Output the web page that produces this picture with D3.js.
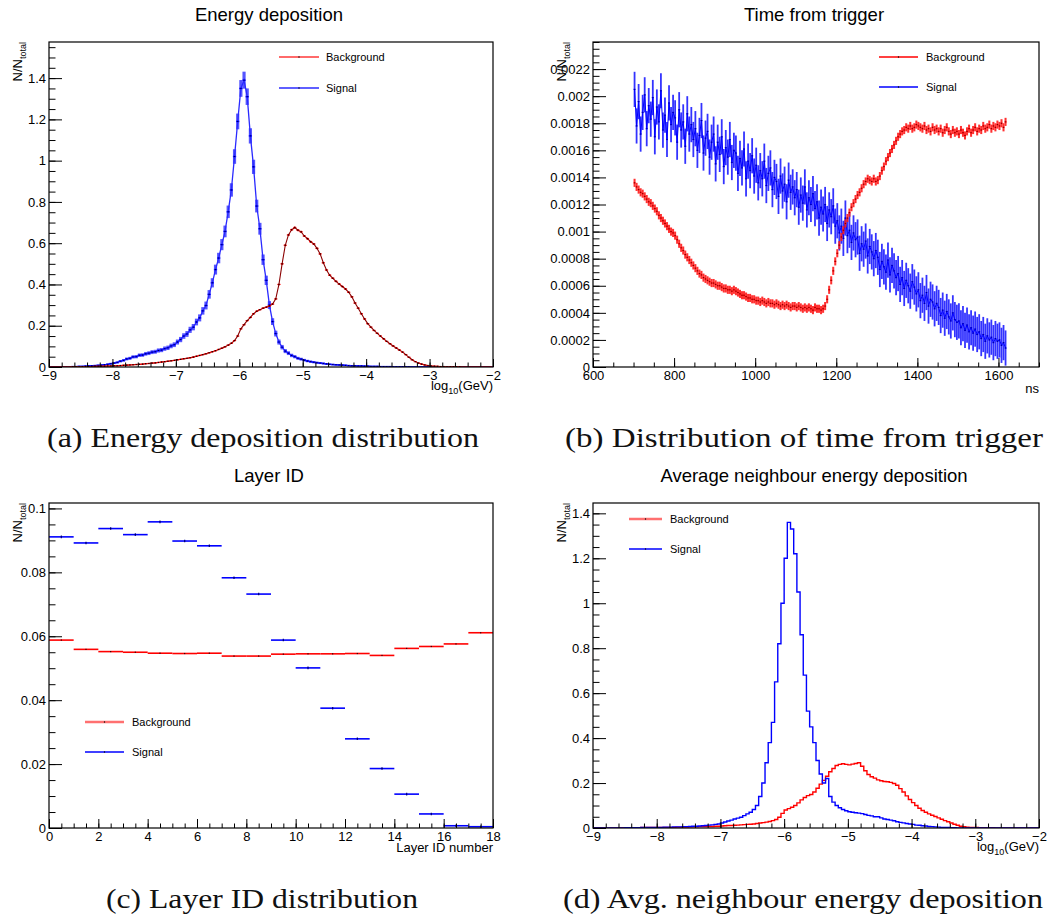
<!DOCTYPE html>
<html>
<head>
<meta charset="utf-8">
<script src="https://cdn.jsdelivr.net/npm/d3@7"></script>
<style>
    body { margin: 0; background: #fff; }
    svg { display: block; }
</style>
</head>
<body>
<div id="chart"></div>
<script>

/* (a) energy deposition, bins of 0.05 in log10(GeV) starting at -9 */
const ENERGY_BIN_START = -9;
const ENERGY_BIN_WIDTH = 0.05;
const energySignal = [
    0, 0, 0, 0, 0.001, 0.001, 0.001, 0.002, 0.002, 0.003, 0.003, 0.004, 0.005, 0.006, 0.007, 0.008, 0.009, 0.011, 0.013, 0.016,
    0.019, 0.022, 0.028, 0.032, 0.039, 0.042, 0.049, 0.050, 0.057, 0.058, 0.064, 0.067, 0.072, 0.074, 0.080, 0.082, 0.089, 0.093, 0.102, 0.108,
    0.121, 0.133, 0.150, 0.160, 0.180, 0.193, 0.218, 0.238, 0.272, 0.298, 0.352, 0.408, 0.472, 0.528, 0.593, 0.657, 0.752, 0.858, 1.020, 1.190,
    1.350, 1.390, 1.310, 1.120, 0.970, 0.780, 0.670, 0.520, 0.420, 0.300, 0.220, 0.162, 0.121, 0.096, 0.077, 0.067, 0.056, 0.050, 0.042, 0.038,
    0.033, 0.029, 0.026, 0.023, 0.021, 0.019, 0.017, 0.015, 0.013, 0.012, 0.011, 0.010, 0.009, 0.008, 0.007, 0.006, 0.006, 0.005, 0.005, 0.004,
    0.004, 0.003, 0.003, 0.003, 0.002, 0.002, 0.002, 0.002, 0.001, 0.001, 0.001, 0.001, 0.001, 0.001, 0, 0, 0, 0, 0, 0,
    0, 0, 0, 0, 0, 0, 0, 0, 0, 0, 0, 0, 0, 0, 0, 0, 0, 0, 0, 0
];
const energyBackground = [
    0, 0, 0, 0, 0, 0, 0, 0.001, 0.001, 0.001, 0.001, 0.002, 0.002, 0.002, 0.003, 0.003, 0.004, 0.004, 0.005, 0.005,
    0.006, 0.006, 0.007, 0.008, 0.009, 0.010, 0.011, 0.012, 0.013, 0.014, 0.016, 0.017, 0.019, 0.020, 0.022, 0.024, 0.026, 0.028, 0.030, 0.032,
    0.035, 0.037, 0.040, 0.042, 0.045, 0.048, 0.052, 0.056, 0.060, 0.064, 0.069, 0.074, 0.079, 0.085, 0.091, 0.098, 0.106, 0.115, 0.128, 0.150,
    0.185, 0.205, 0.225, 0.240, 0.258, 0.270, 0.278, 0.285, 0.290, 0.296, 0.305, 0.330, 0.400, 0.500, 0.590, 0.640, 0.665, 0.676, 0.663, 0.655,
    0.635, 0.622, 0.607, 0.596, 0.575, 0.548, 0.505, 0.470, 0.445, 0.430, 0.415, 0.402, 0.390, 0.378, 0.362, 0.340, 0.310, 0.285, 0.258, 0.233,
    0.210, 0.193, 0.177, 0.163, 0.150, 0.137, 0.124, 0.113, 0.102, 0.092, 0.082, 0.072, 0.060, 0.047, 0.035, 0.026, 0.019, 0.014, 0.010, 0.007,
    0.005, 0.004, 0.003, 0.002, 0.002, 0.001, 0.001, 0.001, 0.001, 0.001, 0, 0, 0, 0, 0, 0, 0, 0, 0, 0
];
const ENERGY_ERROR_SCALE = { signal: 0.035, background: 0.006 };

/* (b) time from trigger, 5 ns bins from 700 ns, values in units of 1e-5 */
const TIME_BIN_START = 700;
const TIME_BIN_WIDTH = 5;
const TIME_UNIT = 1e-5;
const timeSignal = [
    205, 178, 196, 172, 188, 201, 176, 193, 183, 199,
    170, 192, 181, 204, 175, 186, 168, 195, 179, 188,
    184, 166, 190, 175, 181, 163, 187, 172, 179, 168,
    176, 160, 171, 182, 158, 169, 174, 155, 166, 172,
    150, 166, 157, 170, 148, 162, 155, 168, 151, 160,
    158, 143, 154, 147, 161, 139, 152, 145, 156, 141,
    149, 136, 145, 139, 152, 134, 143, 147, 131, 140,
    137, 126, 141, 130, 135, 122, 138, 129, 133, 125,
    131, 118, 127, 121, 133, 116, 125, 120, 128, 117,
    122, 110, 118, 113, 120, 106, 116, 111, 119, 104,
    108, 99, 104, 95, 110, 97, 101, 92, 99, 94,
    96, 84, 91, 87, 93, 82, 89, 85, 80, 86,
    81, 72, 78, 74, 70, 79, 68, 75, 71, 66,
    69, 61, 66, 58, 64, 60, 56, 63, 59, 54,
    57, 49, 53, 47, 55, 45, 50, 48, 43, 47,
    44, 38, 42, 36, 41, 37, 34, 40, 35, 33,
    34, 29, 32, 27, 31, 26, 29, 25, 28, 24,
    26, 21, 24, 19, 23, 20, 22, 18, 21, 19,
    20, 16, 18, 14
];
const timeBackground = [
    136, 133, 131, 129, 128, 126, 124, 122, 121, 119,
    117, 115, 112, 110, 108, 106, 104, 102, 100, 99,
    97, 94, 91, 88, 86, 83, 81, 79, 77, 75,
    73, 71, 69, 68, 66, 65, 64, 63, 62, 62,
    61, 60, 60, 59, 58, 58, 57, 57, 56, 57,
    56, 55, 54, 53, 53, 52, 51, 51, 50, 50,
    49, 49, 48, 49, 48, 47, 48, 47, 47, 46,
    47, 46, 45, 46, 45, 46, 45, 44, 45, 45,
    44, 45, 44, 43, 44, 43, 44, 43, 42, 44,
    43, 43, 42, 43, 45, 50, 57, 64, 71, 78,
    84, 90, 96, 101, 106, 110, 114, 118, 121, 124,
    127, 129, 132, 135, 137, 139, 138, 137, 139, 137,
    138, 141, 145, 148, 152, 155, 158, 161, 164, 167,
    170, 172, 174, 175, 177, 176, 178, 176, 177, 179,
    178, 177, 176, 178, 175, 176, 174, 177, 175, 176,
    174, 176, 173, 175, 177, 174, 172, 175, 173, 174,
    172, 175, 173, 171, 174, 176, 173, 175, 177, 174,
    176, 175, 178, 176, 177, 179, 176, 178, 177, 179,
    178, 180, 177, 181
];
const TIME_ERROR = { signal: 13, background: 3 };

/* (c) layer ID, one bin per layer */
const LAYER_BIN_START = 0;
const LAYER_BIN_WIDTH = 1;
const layerSignal = [
    0.0911, 0.0892, 0.0937, 0.0918, 0.0958, 0.0898, 0.0883, 0.0783, 0.0732,
    0.0588, 0.0501, 0.0375, 0.0279, 0.0186, 0.0106, 0.0044, 0.0007, 0.0004
];
const layerBackground = [
    0.0588, 0.0559, 0.0552, 0.0550, 0.0547, 0.0546, 0.0547, 0.0538, 0.0538,
    0.0544, 0.0545, 0.0545, 0.0546, 0.0540, 0.0562, 0.0568, 0.0576, 0.0611
];
const LAYER_ERROR = { signal: 0.0004, background: 0.0001 };

/* (d) average neighbour energy deposition, bins of 0.05 from -9 */
const NEIGHBOUR_BIN_START = -9;
const NEIGHBOUR_BIN_WIDTH = 0.05;
const neighbourSignal = [
    0, 0, 0, 0, 0, 0, 0, 0, 0, 0, 0.001, 0.001, 0.001, 0.001, 0.001, 0.002, 0.002, 0.002, 0.002, 0.003,
    0.003, 0.003, 0.004, 0.004, 0.004, 0.005, 0.005, 0.005, 0.006, 0.006, 0.007, 0.008, 0.008, 0.009, 0.010, 0.011, 0.013, 0.014, 0.016, 0.018,
    0.022, 0.027, 0.031, 0.035, 0.040, 0.044, 0.048, 0.055, 0.063, 0.070, 0.082, 0.100, 0.140, 0.200, 0.290, 0.380, 0.470, 0.650, 0.820, 1.000,
    1.200, 1.360, 1.330, 1.220, 1.050, 0.860, 0.680, 0.520, 0.450, 0.380, 0.300, 0.240, 0.200, 0.220, 0.140, 0.115, 0.100, 0.090, 0.082, 0.077,
    0.072, 0.070, 0.068, 0.066, 0.064, 0.060, 0.056, 0.054, 0.050, 0.050, 0.045, 0.040, 0.038, 0.035, 0.032, 0.028, 0.025, 0.023, 0.020, 0.018,
    0.016, 0.013, 0.012, 0.010, 0.009, 0.007, 0.006, 0.005, 0.004, 0.003, 0.003, 0.002, 0.001, 0.001, 0, 0, 0, 0, 0, 0,
    0, 0, 0, 0, 0, 0, 0, 0, 0, 0, 0, 0, 0, 0, 0, 0, 0, 0, 0, 0
];
const neighbourBackground = [
    0, 0, 0, 0, 0, 0, 0, 0, 0.001, 0.001, 0.001, 0.001, 0.001, 0.001, 0.001, 0.002, 0.002, 0.002, 0.002, 0.002,
    0.002, 0.002, 0.003, 0.003, 0.003, 0.003, 0.004, 0.004, 0.004, 0.004, 0.005, 0.005, 0.005, 0.006, 0.006, 0.006, 0.007, 0.007, 0.008, 0.008,
    0.009, 0.010, 0.011, 0.011, 0.012, 0.013, 0.014, 0.015, 0.016, 0.017, 0.018, 0.020, 0.022, 0.024, 0.026, 0.029, 0.033, 0.038, 0.048, 0.065,
    0.080, 0.086, 0.092, 0.100, 0.112, 0.125, 0.136, 0.144, 0.149, 0.160, 0.177, 0.195, 0.212, 0.230, 0.250, 0.265, 0.278, 0.283, 0.286, 0.283,
    0.281, 0.284, 0.287, 0.290, 0.275, 0.255, 0.238, 0.228, 0.222, 0.214, 0.210, 0.207, 0.206, 0.203, 0.198, 0.190, 0.175, 0.160, 0.143, 0.127,
    0.113, 0.100, 0.088, 0.078, 0.070, 0.063, 0.057, 0.051, 0.045, 0.039, 0.033, 0.028, 0.022, 0.017, 0.012, 0.008, 0.006, 0.004, 0.003, 0.002,
    0.002, 0.001, 0.001, 0.001, 0.001, 0.001, 0, 0, 0, 0, 0, 0, 0, 0, 0, 0, 0, 0, 0, 0
];

/* axis ticks and texts */
const LOG_X_TICKS = [-9, -8, -7, -6, -5, -4, -3, -2];
const ENERGY_Y_TICKS = [0, 0.2, 0.4, 0.6, 0.8, 1, 1.2, 1.4];
const TIME_X_TICKS = [600, 800, 1000, 1200, 1400, 1600];
const TIME_Y_TICKS = [0, 0.0002, 0.0004, 0.0006, 0.0008, 0.001, 0.0012, 0.0014, 0.0016, 0.0018, 0.002, 0.0022];
const LAYER_X_TICKS = [0, 2, 4, 6, 8, 10, 12, 14, 16, 18];
const LAYER_Y_TICKS = [0, 0.02, 0.04, 0.06, 0.08, 0.1];

const TITLES = ['Energy deposition', 'Time from trigger', 'Layer ID', 'Average neighbour energy deposition'];
const CAPTIONS = [
    '(a) Energy deposition distribution',
    '(b) Distribution of time from trigger',
    '(c) Layer ID distribution',
    '(d) Avg. neighbour energy deposition'
];
const LEGEND_LABELS = ['Background', 'Signal'];

const WIDTH = 1053;
const HEIGHT = 923;
const FONT = "'Liberation Sans', Arial, Helvetica, sans-serif";
const SERIF = "'Liberation Serif', 'Times New Roman', serif";
const BLUE = '#0000ff';
const RED = '#ff0000';

const svg = d3.select('#chart').append('svg')
    .attr('width', WIDTH)
    .attr('height', HEIGHT);

svg.append('rect')
    .attr('width', WIDTH)
    .attr('height', HEIGHT)
    .attr('fill', '#fff');

const toBins = (values, start, width, scale = 1) => values.map((v, i) => ({
    lo: start + i * width,
    hi: start + (i + 1) * width,
    v: v * scale
}));

const minorTicks = (domain, step) => d3.range(
    Math.ceil(domain[0] / step - 1e-9),
    Math.floor(domain[1] / step + 1e-9) + 1
).map(k => +(k * step).toFixed(8));

const tickText = d => (d < 0 ? '\u2212' + Math.abs(d) : String(d));

const styleAxis = g => {
    g.select('.domain').remove();
    g.attr('font-family', FONT).attr('font-size', 13);
    g.selectAll('line').attr('stroke', '#000').attr('stroke-width', 1);
    g.selectAll('text').attr('fill', '#000');
};

const drawPanel = panel => {

    const g = svg.append('g');
    const x = d3.scaleLinear().domain(panel.xDomain).range([panel.left, panel.right]);
    const y = d3.scaleLinear().domain(panel.yDomain).range([panel.bottom, panel.top]);

    g.append('clipPath')
        .attr('id', `clip-${panel.id}`)
        .append('rect')
        .attr('x', panel.left)
        .attr('y', panel.top)
        .attr('width', panel.right - panel.left)
        .attr('height', panel.bottom - panel.top);

    const plot = g.append('g').attr('clip-path', `url(#clip-${panel.id})`);

    // ROOT style: ticks inside the frame, left and bottom only
    g.append('g')
        .attr('transform', `translate(0, ${panel.bottom})`)
        .call(d3.axisBottom(x).tickValues(minorTicks(panel.xDomain, panel.xMinor)).tickSize(-4.5).tickFormat(''))
        .call(styleAxis);
    g.append('g')
        .attr('transform', `translate(0, ${panel.bottom})`)
        .call(d3.axisBottom(x).tickValues(panel.xTicks).tickSize(-panel.xMajorLen).tickPadding(3.5).tickFormat(tickText))
        .call(styleAxis);
    g.append('g')
        .attr('transform', `translate(${panel.left}, 0)`)
        .call(d3.axisLeft(y).tickValues(minorTicks(panel.yDomain, panel.yMinor)).tickSize(-6.5).tickFormat(''))
        .call(styleAxis);
    g.append('g')
        .attr('transform', `translate(${panel.left}, 0)`)
        .call(d3.axisLeft(y).tickValues(panel.yTicks).tickSize(-13).tickPadding(3).tickFormat(tickText))
        .call(styleAxis);

    g.append('rect')
        .attr('x', panel.left)
        .attr('y', panel.top)
        .attr('width', panel.right - panel.left)
        .attr('height', panel.bottom - panel.top)
        .attr('fill', 'none')
        .attr('stroke', '#000')
        .attr('stroke-width', 1.2);

    g.append('text')
        .attr('x', (panel.left + panel.right) / 2 - 2)
        .attr('y', panel.top - 21)
        .attr('text-anchor', 'middle')
        .attr('font-family', FONT)
        .attr('font-size', 18.5)
        .text(panel.title);

    // x axis title, right aligned to the frame
    const xTitle = g.append('text')
        .attr('x', panel.right)
        .attr('y', panel.xTitleY)
        .attr('text-anchor', 'end')
        .attr('font-family', FONT)
        .attr('font-size', 13);
    if (panel.logTitle) {
        xTitle.append('tspan').text('log');
        xTitle.append('tspan').attr('dy', 4).attr('font-size', 9).text('10');
        xTitle.append('tspan').attr('dy', -4).text('(GeV)');
    } else {
        xTitle.text(panel.xTitle);
    }

    const yTitle = g.append('text')
        .attr('transform', `translate(${panel.left - 27}, ${panel.top}) rotate(-90)`)
        .attr('text-anchor', 'end')
        .attr('font-family', FONT)
        .attr('font-size', 13);
    yTitle.append('tspan').text('N/N');
    yTitle.append('tspan').attr('dy', 4).attr('font-size', 9).text('total');

    svg.append('text')
        .attr('x', panel.captionX)
        .attr('y', panel.captionY)
        .attr('font-family', SERIF)
        .attr('font-size', 28)
        .attr('textLength', panel.captionWidth)
        .attr('lengthAdjust', 'spacingAndGlyphs')
        .attr('fill', '#111')
        .text(panel.caption);

    return { g, plot, x, y };
};

// histogram drawn with bin width lines, error bars and small black markers
const drawErrorHist = (plot, x, y, bins, style) => {
    const layer = plot.append('g');
    const mid = b => x((b.lo + b.hi) / 2);

    if (style.box) {
        // error bars as wide as the bin, so that dense bins read as a band
        layer.selectAll('rect.err')
            .data(bins.filter(b => b.e > 0))
            .join('rect')
            .attr('class', 'err')
            .attr('x', b => x(b.lo))
            .attr('width', b => x(b.hi) - x(b.lo))
            .attr('y', b => y(b.v + b.e))
            .attr('height', b => y(b.v - b.e) - y(b.v + b.e))
            .attr('fill', style.errorColor)
            .attr('fill-opacity', style.errorOpacity || 1);
    } else {
        layer.selectAll('line.err')
            .data(bins.filter(b => b.e > 0))
            .join('line')
            .attr('class', 'err')
            .attr('x1', mid)
            .attr('x2', mid)
            .attr('y1', b => y(b.v - b.e))
            .attr('y2', b => y(b.v + b.e))
            .attr('stroke', style.errorColor)
            .attr('stroke-width', style.errorWidth)
            .attr('stroke-opacity', style.errorOpacity || 1);
    }

    if (style.join) {
        layer.append('path')
            .attr('d', d3.line().x(mid).y(b => y(b.v))(bins))
            .attr('fill', 'none')
            .attr('stroke', style.join)
            .attr('stroke-width', style.joinWidth || 1.1);
    }

    layer.selectAll('line.bin')
        .data(bins)
        .join('line')
        .attr('class', 'bin')
        .attr('x1', b => x(b.lo))
        .attr('x2', b => x(b.hi))
        .attr('y1', b => y(b.v))
        .attr('y2', b => y(b.v))
        .attr('stroke', style.color)
        .attr('stroke-width', style.width);

    layer.selectAll('rect.marker')
        .data(bins.filter(b => b.v > 0))
        .join('rect')
        .attr('class', 'marker')
        .attr('x', b => mid(b) - style.marker / 2)
        .attr('y', b => y(b.v) - style.marker / 2)
        .attr('width', style.marker)
        .attr('height', style.marker)
        .attr('fill', '#000')
        .attr('fill-opacity', style.markerOpacity || 0.8);
};

const drawStepHist = (plot, x, y, bins, color) => {
    const last = bins[bins.length - 1];
    const points = bins.map(b => [b.lo, b.v]).concat([[last.hi, last.v]]);
    plot.append('path')
        .attr('d', d3.line().x(d => x(d[0])).y(d => y(d[1])).curve(d3.curveStepAfter)(points))
        .attr('fill', 'none')
        .attr('stroke', color)
        .attr('stroke-width', 1.4);
};

const drawLegend = (g, legend) => {
    legend.colors.forEach((color, i) => {
        const yPos = legend.y[i];
        g.append('line')
            .attr('x1', legend.x1)
            .attr('x2', legend.x2)
            .attr('y1', yPos)
            .attr('y2', yPos)
            .attr('stroke', color)
            .attr('stroke-width', legend.widths[i]);
        g.append('rect')
            .attr('x', (legend.x1 + legend.x2) / 2 - 0.6)
            .attr('y', yPos - 0.6)
            .attr('width', 1.2)
            .attr('height', 1.2)
            .attr('fill', '#000');
        g.append('text')
            .attr('x', legend.textX)
            .attr('y', yPos)
            .attr('dy', '0.35em')
            .attr('font-family', FONT)
            .attr('font-size', 11)
            .text(LEGEND_LABELS[i]);
    });
};

const PANELS = [
    {
        id: 'energy', left: 49, right: 493, top: 42, bottom: 367,
        xDomain: [-9, -2], yDomain: [0, 1.575], xTicks: LOG_X_TICKS, yTicks: ENERGY_Y_TICKS,
        xMinor: 0.2, yMinor: 0.05, xMajorLen: 8, logTitle: true, xTitleY: 390,
        title: TITLES[0], caption: CAPTIONS[0], captionX: 47, captionY: 447, captionWidth: 432,
        legend: { x1: 279, x2: 319, textX: 326, y: [57, 88], colors: ['#ff6a6a', '#2a2aff'], widths: [2, 1.6] }
    },
    {
        id: 'time', left: 593, right: 1039, top: 42, bottom: 367,
        xDomain: [600, 1700], yDomain: [0, 0.0024], xTicks: TIME_X_TICKS, yTicks: TIME_Y_TICKS,
        xMinor: 50, yMinor: 0.00005, xMajorLen: 9, logTitle: false, xTitle: 'ns', xTitleY: 393,
        title: TITLES[1], caption: CAPTIONS[1], captionX: 565, captionY: 447, captionWidth: 478,
        legend: { x1: 879, x2: 918, textX: 926, y: [57, 87], colors: [RED, BLUE], widths: [1.5, 1.5] }
    },
    {
        id: 'layer', left: 49, right: 493, top: 503, bottom: 828,
        xDomain: [0, 18], yDomain: [0, 0.1017], xTicks: LAYER_X_TICKS, yTicks: LAYER_Y_TICKS,
        xMinor: 0.5, yMinor: 0.005, xMajorLen: 9, logTitle: false, xTitle: 'Layer ID number', xTitleY: 852,
        title: TITLES[2], caption: CAPTIONS[2], captionX: 106, captionY: 908, captionWidth: 312,
        legend: { x1: 85, x2: 124, textX: 132, y: [722, 752], colors: ['#ff7070', BLUE], widths: [2.5, 1.5] }
    },
    {
        id: 'neighbour', left: 593, right: 1039, top: 503, bottom: 828,
        xDomain: [-9, -2], yDomain: [0, 1.446], xTicks: LOG_X_TICKS, yTicks: ENERGY_Y_TICKS,
        xMinor: 0.2, yMinor: 0.05, xMajorLen: 9, logTitle: true, xTitleY: 851,
        title: TITLES[3], caption: CAPTIONS[3], captionX: 563, captionY: 908, captionWidth: 480,
        legend: { x1: 629, x2: 662, textX: 670, y: [519, 549], colors: ['#ff7070', BLUE], widths: [2.5, 1.5] }
    }
];

const views = PANELS.map(drawPanel);

/* (a) */
{
    const { g, plot, x, y } = views[0];
    const sig = toBins(energySignal, ENERGY_BIN_START, ENERGY_BIN_WIDTH)
        .map(b => ({ ...b, e: ENERGY_ERROR_SCALE.signal * Math.sqrt(b.v) }));
    const bkg = toBins(energyBackground, ENERGY_BIN_START, ENERGY_BIN_WIDTH)
        .map(b => ({ ...b, e: ENERGY_ERROR_SCALE.background * Math.sqrt(b.v) }));
    drawErrorHist(plot, x, y, sig, {
        box: true, join: '#2a2aff', joinWidth: 1.3, color: BLUE, width: 1.4,
        errorColor: '#2a2aff', errorOpacity: 0.8, marker: 1
    });
    drawErrorHist(plot, x, y, bkg, {
        join: '#8b0000', color: RED, width: 1.2, errorColor: RED, errorWidth: 1.5, marker: 1.3, markerOpacity: 0.9
    });
    drawLegend(g, PANELS[0].legend);
}

/* (b) */
{
    const { g, plot, x, y } = views[1];
    const sig = toBins(timeSignal, TIME_BIN_START, TIME_BIN_WIDTH, TIME_UNIT)
        .map(b => ({ ...b, e: TIME_ERROR.signal * TIME_UNIT }));
    const bkg = toBins(timeBackground, TIME_BIN_START, TIME_BIN_WIDTH, TIME_UNIT)
        .map(b => ({ ...b, e: TIME_ERROR.background * TIME_UNIT }));
    drawErrorHist(plot, x, y, sig, {
        join: BLUE, joinWidth: 1, color: BLUE, width: 1.2,
        errorColor: BLUE, errorWidth: 1.8, errorOpacity: 0.8, marker: 1, markerOpacity: 0.5
    });
    drawErrorHist(plot, x, y, bkg, {
        box: true, color: RED, width: 1.2, errorColor: '#ff1a1a', errorOpacity: 0.9, marker: 1, markerOpacity: 0.6
    });
    drawLegend(g, PANELS[1].legend);
}

/* (c) */
{
    const { g, plot, x, y } = views[2];
    const sig = toBins(layerSignal, LAYER_BIN_START, LAYER_BIN_WIDTH).map(b => ({ ...b, e: LAYER_ERROR.signal }));
    const bkg = toBins(layerBackground, LAYER_BIN_START, LAYER_BIN_WIDTH).map(b => ({ ...b, e: LAYER_ERROR.background }));
    drawErrorHist(plot, x, y, bkg, {
        color: RED, width: 1.6, errorColor: RED, errorWidth: 1, marker: 1.2
    });
    drawErrorHist(plot, x, y, sig, {
        color: BLUE, width: 1.6, errorColor: '#00008b', errorWidth: 1.2, marker: 1.2
    });
    drawLegend(g, PANELS[2].legend);
}

/* (d) */
{
    const { g, plot, x, y } = views[3];
    drawStepHist(plot, x, y, toBins(neighbourBackground, NEIGHBOUR_BIN_START, NEIGHBOUR_BIN_WIDTH), RED);
    drawStepHist(plot, x, y, toBins(neighbourSignal, NEIGHBOUR_BIN_START, NEIGHBOUR_BIN_WIDTH), BLUE);
    drawLegend(g, PANELS[3].legend);
}

</script>
</body>
</html>
